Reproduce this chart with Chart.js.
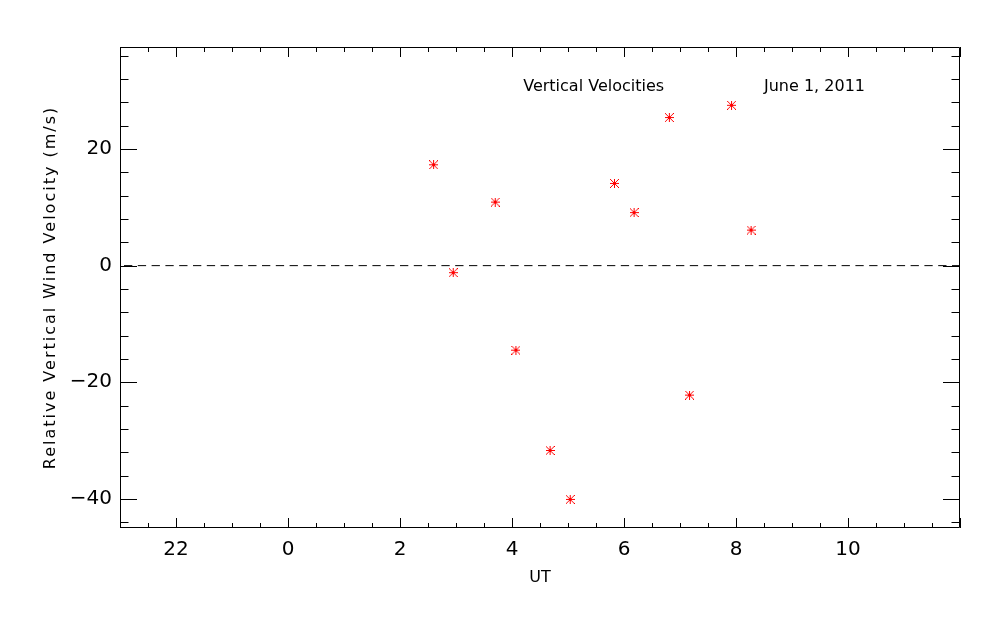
<!DOCTYPE html>
<html>
<head>
<meta charset="utf-8">
<script src="https://cdn.jsdelivr.net/npm/chart.js@4.4.1/dist/chart.umd.min.js"></script>
<style>
  html, body { margin: 0; padding: 0; background: #fff; }
  canvas { display: block; }
</style>
</head>
<body>
<canvas id="chart" width="1000" height="625"></canvas>
<script>
// UT (hours), negative = previous day
const utHours = [2.60, 2.95, 3.70, 4.07, 4.68, 5.04, 5.83, 6.18, 6.81, 7.17, 7.92, 8.27]
const vertVel = [17.3, -1.2, 10.9, -14.5, -31.7, -40.1, 14.1, 9.1, 25.4, -22.2, 27.5, 6.1]

const xTickValues = [-2, 0, 2, 4, 6, 8, 10]
const xTickLabels = ['22', '0', '2', '4', '6', '8', '10']
const yTickValues = [-40, -20, 0, 20]
const yTickLabels = ['\u221240', '\u221220', '0', '20']

const zeroLineX = [-3, 12]
const zeroLineY = [0, 0]

const xRange = [-3, 12]
const yRange = [-45, 37.5]
const xMinorStep = 0.5
const yMinorStep = 4

const yTitle = 'Relative Vertical Wind Velocity (m/s)'

// labels written inside the plot (data coords)
const notes = [
  { text: 'Vertical Velocities', x: 4.2, y: 30 },
  { text: 'June 1, 2011', x: 8.5, y: 30 }
]

// IDL style asterisk (psym=2)
function makeAsterisk(size, color) {
  const c = document.createElement('canvas')
  c.width = size
  c.height = size
  const g = c.getContext('2d')
  const m = size / 2
  g.strokeStyle = color
  g.lineWidth = 1
  g.beginPath()
  g.moveTo(0, m); g.lineTo(size, m)
  g.moveTo(m, 0); g.lineTo(m, size)
  g.moveTo(0, 0); g.lineTo(size, size)
  g.moveTo(size, 0); g.lineTo(0, size)
  g.stroke()
  g.fillStyle = color
  g.fillRect(m - 1.5, m - 1.5, 3, 3)
  return c
}

/* ===============================
   FRAME + TICKS ON ALL 4 SIDES
================================ */
const frameTicks = {
  id: 'frameTicks',
  afterDatasetsDraw(chart) {
    const { ctx, chartArea: a, scales } = chart
    const xs = scales.x, ys = scales.y
    ctx.save()
    ctx.strokeStyle = '#000'
    ctx.lineWidth = 1
    ctx.beginPath()
    ctx.rect(a.left + 0.5, a.top + 0.5, a.right - a.left - 1, a.bottom - a.top - 1)

    for (let v = xs.min; v <= xs.max + 1e-9; v += xMinorStep) {
      const px = Math.round(xs.getPixelForValue(v)) + 0.5
      const len = Math.abs(v % 2) < 1e-9 ? 10 : 5
      ctx.moveTo(px, a.bottom); ctx.lineTo(px, a.bottom - len)
      ctx.moveTo(px, a.top); ctx.lineTo(px, a.top + len)
    }
    for (let v = -44; v <= ys.max; v += yMinorStep) {
      const py = Math.round(ys.getPixelForValue(v)) + 0.5
      const len = Math.abs(v % 20) < 1e-9 ? 17 : 8.5
      ctx.moveTo(a.left, py); ctx.lineTo(a.left + len, py)
      ctx.moveTo(a.right, py); ctx.lineTo(a.right - len, py)
    }
    ctx.stroke()

    ctx.fillStyle = '#000'
    ctx.font = '16px "DejaVu Sans"'
    ctx.textAlign = 'left'
    ctx.textBaseline = 'alphabetic'
    notes.forEach(n => {
      ctx.fillText(n.text, xs.getPixelForValue(n.x), ys.getPixelForValue(n.y))
    })

    // y axis title, wide spaced like the IDL vector font
    ctx.translate(51, (a.top + a.bottom) / 2)
    ctx.rotate(-Math.PI / 2)
    ctx.textAlign = 'center'
    ctx.textBaseline = 'middle'
    ctx.letterSpacing = '2px'
    ctx.fillText(yTitle, 0, 0)
    ctx.restore()
  }
}

Chart.defaults.font.family = '"DejaVu Sans", sans-serif'
Chart.defaults.color = '#000'

new Chart(document.getElementById('chart'), {
  type: 'scatter',
  data: {
    datasets: [
      {
        data: utHours.map((x, i) => ({ x: x, y: vertVel[i] })),
        pointStyle: makeAsterisk(9, '#ff0000'),
        pointRadius: 4.5,
        borderColor: '#ff0000',
        backgroundColor: '#ff0000'
      },
      {
        data: zeroLineX.map((x, i) => ({ x: x, y: zeroLineY[i] })),
        showLine: true,
        borderColor: '#000',
        borderWidth: 1,
        borderDash: [8.3, 5.5],
        borderDashOffset: 9.8,
        pointRadius: 0
      }
    ]
  },
  options: {
    responsive: false,
    animation: false,
    layout: { padding: { top: 47, right: 40, left: 0, bottom: 0 } },
    plugins: {
      legend: { display: false },
      tooltip: { enabled: false }
    },
    scales: {
      x: {
        type: 'linear',
        min: xRange[0],
        max: xRange[1],
        grid: { display: false, drawTicks: false },
        border: { display: false },
        afterBuildTicks: s => { s.ticks = xTickValues.map(v => ({ value: v })) },
        afterFit: s => { s.height = 97 },
        ticks: {
          font: { size: 20 },
          padding: 10,
          maxRotation: 0,
          autoSkip: false,
          callback: (v, i) => xTickLabels[i]
        },
        title: {
          display: true,
          text: 'UT',
          font: { size: 16 },
          padding: { top: 0, bottom: 38 }
        }
      },
      y: {
        type: 'linear',
        min: yRange[0],
        max: yRange[1],
        grid: { display: false, drawTicks: false },
        border: { display: false },
        afterBuildTicks: s => { s.ticks = yTickValues.map(v => ({ value: v })) },
        afterFit: s => { s.width = 120 },
        ticks: {
          font: { size: 20 },
          padding: 8,
          autoSkip: false,
          callback: (v, i) => yTickLabels[i]
        }
      }
    }
  },
  plugins: [frameTicks]
})
</script>
</body>
</html>
